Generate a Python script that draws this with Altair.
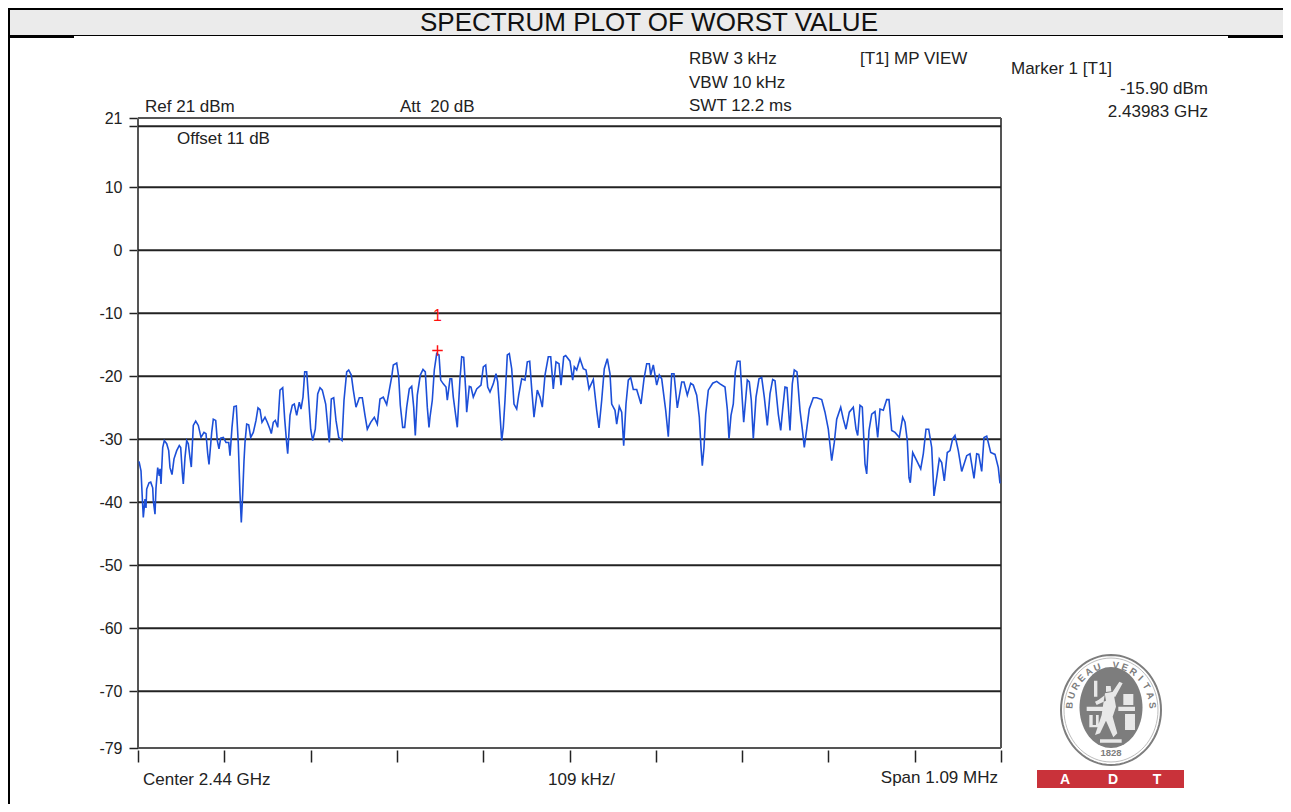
import math
import altair as alt
import pandas as pd

# Trace: position across the 863-column display, level in dBm
trace_col = [1,3,4.3,5.3,7,8,8.7,11,12.7,14.7,15.3,17,18,19.7,21.3,22,23,24.7,26.3,28.7,30.7,32,34,36,38.7,41.3,42.7,44.3,45.3,47,48.7,50.3,52,53.3,55.3,57.7,60.3,63,66,68,69.7,71,73.7,75.3,77.7,79.3,81,82.7,85.3,88,90.7,92,94,96,98.3,100.3,102,103.3,104.7,106,107,108.7,110.7,112.7,115.3,118,120,122,124,127,129.3,132,133.3,135.3,137.3,139.7,142,144.7,146.7,148.7,149.7,152,154.3,156.3,158.7,161.3,163,165,166.7,168.7,170.7,172.7,174.7,177.3,179.7,182,184.3,187.7,190,191.3,193.3,195.7,198,200.7,204,206,208.7,210.7,213.3,215.3,218,221.3,224.3,227,229.3,232.7,236.3,239.3,242,245.3,248.7,251.3,253.7,255.3,258.7,260.7,262.3,264.7,266.7,268.7,271.3,273.7,275.7,277.3,279.3,282.3,285,287.3,289.3,291,
292,294.3,296.3,298.7,301,302.7,305.3,308,309.3,312,313.7,315.3,317.7,319.3,322,323.7,325.7,327.7,328.7,331.3,333,335.3,338.7,343,345.3,347.7,349.7,352,355.3,358,359.7,361.3,363.7,365.3,367,369.3,371.3,373.7,376,378.7,380.7,383.7,387,389.3,391.7,393.7,396,399.3,402,404.3,407,410.3,412.7,415.3,418,421,423,425.7,427.7,432,434.7,436.3,438.7,442,445.3,448,451,455.3,458.7,461,463.7,466.3,469.3,472,473.7,477,478.7,481.3,483.7,485.7,488,490.3,492.7,495.3,498.7,503,506,508.7,511.3,512.7,515.3,518.7,521.3,523.7,527.7,530.3,533.7,536,539.3,543.7,546,549.3,552.7,555.3,558.7,561.3,563,564.3,566,567.7,570.3,574.7,578.7,582,
587,589.3,591,593,595.3,597.3,599.3,602,604.3,605.7,607.7,609.3,611.3,613.3,615.3,618,621,623.7,626.3,629.3,632,634.7,637,640.3,642.7,644.7,647,649,652,654.3,656.3,659,662,664.3,666.3,668.7,671.3,675.3,678.7,683.7,687,690.3,693.7,696.3,698.7,702.7,705.3,708,711.3,715.3,718,719.7,722,724.3,727,728.7,731,733.7,737,739.7,742,745.3,748.7,751,753.7,757,761.3,764.7,767,769.3,771,772.3,774.7,778.7,782.7,785.3,788,790.7,793.7,796,798.7,801.3,803.7,806.3,809.3,812,814.7,817,820.3,823.7,828.7,832,836,838.7,840.7,843.7,846,848.7,852.7,857,860.3,862]
trace_dbm = [-33.5,-35,-39.3,-42.4,-39.5,-40.9,-37.9,-36.9,-36.8,-37.7,-39.7,-41.9,-37.7,-34.5,-35.8,-34.7,-37.1,-31.3,-30.2,-30.7,-31.8,-34.5,-35.6,-33.1,-31.8,-31,-31.3,-35.3,-37.1,-32.9,-30.2,-30.7,-32.9,-34.4,-27.8,-27.1,-27.8,-29.7,-28.9,-29.1,-32.3,-34,-28.9,-26.8,-27,-30.2,-31.5,-29.8,-29.7,-30.5,-30.5,-32.6,-28.1,-24.8,-24.7,-30.7,-38.7,-43.2,-38.7,-33.4,-30.5,-27.6,-27.7,-29.7,-28.9,-27,-25,-25.3,-27.3,-26.5,-27.3,-28.4,-29.1,-27.3,-27,-28.1,-22.2,-21.8,-26.8,-30.7,-32.3,-26.2,-24.6,-24.4,-26.2,-24.1,-25.2,-23.3,-19.3,-19.3,-23.8,-28.4,-30.2,-28.4,-22.8,-21.8,-22.2,-24.4,-28.4,-30.5,-23.6,-23.4,-27,-29.7,-30.2,-23.8,-19.3,-19,-19.8,-22.2,-24.9,-23.4,-23.4,-26.2,-28.4,-27.3,-26.5,-27.6,-23.6,-23.3,-24.5,-22.2,-20.1,-18.2,-17.9,-20.1,-24.6,-28.1,-28.1,-24.9,-22,-21.6,-24.9,-29.4,-23,-19.8,-18.9,-19.3,-24.9,-28.1,
-26.5,-23.8,-19,-16.4,-16.6,-20.6,-21.2,-21.7,-23.8,-20.4,-20.4,-23.3,-26.2,-28.1,-20.4,-16.9,-17,-22.2,-25.7,-21.6,-21.7,-23.3,-22,-21.4,-18.5,-18.2,-21.7,-22.5,-21.2,-19.6,-20.9,-24.4,-30.2,-28.1,-23.8,-16.6,-16.4,-18.8,-24.4,-25.2,-23,-20.4,-20.6,-17.7,-17.6,-22,-26.5,-22.2,-23.3,-24.9,-19.8,-16.9,-16.9,-22,-17.7,-18,-21.4,-16.9,-16.7,-17.6,-20.6,-18.5,-19,-17.2,-18.8,-19,-22,-20.5,-25.4,-28.2,-23.8,-18.8,-17.2,-19.6,-24.4,-25.4,-27.6,-24.8,-25.7,-31,-24.4,-20.6,-20.2,-22.1,-22.1,-24.4,-20.4,-18,-18,-19.8,-18.2,-21.4,-19.8,-20.4,-25.4,-29.6,-19.6,-19.6,-25,-20.9,-20.9,-23,-21.1,-21.4,-23,-26.5,-31.3,-34.2,-31.3,-26,-22.2,-21.1,-20.8,-21.2,
-21.7,-25.2,-29.9,-26.2,-24.4,-19.3,-17.6,-17.6,-23.8,-27.3,-23.6,-20.6,-20.9,-23.8,-29.9,-23.3,-20.4,-20.2,-23.3,-27.8,-22.8,-20.5,-20.7,-26,-28.6,-25.2,-21.7,-21.8,-28.6,-21.2,-19,-19.3,-25.4,-28.4,-31.3,-28.4,-25.2,-23.4,-23.4,-23.7,-25.7,-28.4,-33.4,-30.5,-26.8,-24.9,-26.8,-28.4,-25.7,-24.9,-28.4,-29.4,-24.6,-24.9,-33.9,-35.5,-28.6,-26,-25.6,-29.7,-25.2,-25.4,-23.7,-23.7,-28.6,-28.9,-29.7,-26.5,-27.3,-30.2,-36.1,-36.9,-32.1,-33.4,-34.7,-32.3,-28.4,-28.4,-31.3,-39,-36.1,-33.1,-33.7,-36.6,-32.1,-31.8,-29.9,-29.4,-31.8,-35.1,-32.6,-32.3,-36.2,-32.3,-32.4,-35.1,-29.7,-29.5,-32.1,-32.4,-34.5,-37]

y_labelled = [21, 10, 0, -10, -20, -30, -40, -50, -60, -70, -79]
y_gridlines = [19.7, 10, 0, -10, -20, -30, -40, -50, -60, -70]
x_divisions = [0, 86.3, 172.6, 258.9, 345.2, 431.5, 517.8, 604.1, 690.4, 776.7, 863]
marker_col, marker_dbm = [299.5], [-15.9]

TITLE = "SPECTRUM PLOT OF WORST VALUE"
FONT = "Liberation Sans"
TXT = 17
W, H, L, T = 863, 630, 130, 110
INK = "#222222"

x_scale = alt.Scale(domain=[0, 863], nice=False, zero=False)
y_scale = alt.Scale(domain=[-79, 21], nice=False, zero=False)
x_axis = alt.Axis(values=x_divisions, labels=False, title=None, domain=False, grid=False,
                  tickSize=12, tickColor=INK, tickWidth=1.5, offset=2)
y_axis = alt.Axis(values=y_labelled + [19.7], title=None, domain=False, grid=False,
                  tickSize=9, tickColor=INK, tickWidth=1.5, labelPadding=7,
                  labelFont=FONT, labelFontSize=16, labelColor=INK,
                  labelExpr="datum.value == 19.7 ? '' : datum.value")
X = lambda f: alt.X(f, scale=x_scale, axis=x_axis)
Y = lambda f: alt.Y(f, scale=y_scale, axis=y_axis)
one = alt.Data(values=[{}])


def px(x):
    return alt.value(x - 8 - L)


def py(y):
    return alt.value(y - 8 - T)


def label(text, x, y, align="left", size=TXT, color=INK, bold=False):
    return alt.Chart(one).mark_text(
        text=text, align=align, baseline="middle", font=FONT, fontSize=size, color=color,
        fontWeight="bold" if bold else "normal",
    ).encode(x=px(x), y=py(y))


def box(x0, x1, y0, y1, color):
    return alt.Chart(one).mark_rect(color=color, opacity=1).encode(
        x=px(x0), x2=px(x1), y=py(y0), y2=py(y1))


def ellipse_path(rx, ry, n=72):
    pts = [(rx * math.cos(2 * math.pi * i / n), ry * math.sin(2 * math.pi * i / n)) for i in range(n)]
    return "M" + "L".join(f"{a:.4f} {b:.4f}" for a, b in pts) + "Z"


def symbol(path, cx, cy, size, **kw):
    return alt.Chart(one).mark_point(shape=path, size=size, opacity=1, **kw).encode(x=px(cx), y=py(cy))


# page furniture
furniture = [
    box(8, 1283, 8, 36, "#ebebeb"),
    box(8, 1283, 8, 10, "#000000"),
    box(8, 1283, 35, 36, "#000000"),
    box(8, 74, 36, 38, "#000000"),
    box(1228, 1283, 36, 38, "#000000"),
    box(8, 10, 8, 804, "#000000"),
    label(TITLE, 649, 23, align="center", size=26, color="#111111"),
]

# plot
grid = alt.Chart(pd.DataFrame({"y": y_gridlines})).mark_rule(color=INK, strokeWidth=2).encode(y=Y("y:Q"))
frame_h = alt.Chart(pd.DataFrame({"y": [21, -79]})).mark_rule(color="#555555", strokeWidth=2).encode(y=Y("y:Q"))
frame_v = alt.Chart(pd.DataFrame({"x": [0, 863]})).mark_rule(color="#555555", strokeWidth=2).encode(x=X("x:Q"))
trace = alt.Chart(pd.DataFrame({"c": trace_col, "d": trace_dbm})).mark_line(
    color="#1c4fd8", strokeWidth=1.6, interpolate="linear").encode(x=X("c:Q"), y=Y("d:Q"), order="c:Q")
marker_cross = alt.Chart(pd.DataFrame({"c": marker_col, "d": marker_dbm})).mark_point(
    shape="M-1 0L1 0M0 -1L0 1", color="#ff1010", size=110, opacity=1, strokeWidth=1.5, filled=False).encode(
    x=X("c:Q"), y=Y("d:Q"))

texts = [
    label("Ref 21 dBm", 145, 107), label("Att\u00a0\u00a020 dB", 400, 107),
    label("RBW 3 kHz", 689, 59), label("VBW 10 kHz", 689, 83), label("SWT 12.2 ms", 689, 106),
    label("[T1] MP VIEW", 860, 59), label("Marker 1 [T1]", 1011, 69),
    label("-15.90 dBm", 1208, 89, align="right"), label("2.43983 GHz", 1208, 112, align="right"),
    label("Offset 11 dB", 177, 139),
    label("Center 2.44 GHz", 143, 780), label("109 kHz/", 548, 780),
    label("Span 1.09 MHz", 998, 778, align="right"),
    label("1", 437.5, 316, align="center", size=16, color="#ff1010"),
]

# logo
cx, cy = 1111, 710
GREY = "#7d7d7d"
word = "BUREAU VERITAS"
rows = []
for i, ch in enumerate(word):
    t = -84 + 168 * i / (len(word) - 1)
    r = math.radians(t)
    rows.append({"ch": ch, "x": cx + 41.5 * math.sin(r) - 8 - L, "y": cy - 45 * math.cos(r) - 8 - T,
                 "a": (t + 360) % 360})
ring_text = alt.Chart(pd.DataFrame(rows)).mark_text(
    font=FONT, fontSize=9.5, color=GREY, fontWeight="bold", align="center", baseline="middle").encode(
    x=alt.X("x:Q", scale=None, axis=None), y=alt.Y("y:Q", scale=None, axis=None),
    text="ch:N", angle=alt.Angle("a:Q", scale=None))


def poly(*pts):
    return "M" + "L".join(f"{(a - 273) / 165:.3f} {(b - 180) / 165:.3f}" for a, b in pts) + "Z"


figure = "".join([
    poly((200, 170), (250, 170), (250, 183), (200, 183)),
    poly((295, 170), (345, 170), (345, 183), (295, 183)),
    poly((255, 130), (280, 125), (288, 170), (278, 200), (292, 250), (280, 262), (258, 212), (240, 250), (225, 255), (245, 195), (250, 160)),
    poly((258, 108), (272, 108), (274, 124), (258, 126)),
    poly((275, 130), (298, 95), (308, 100), (285, 142)),
    poly((255, 135), (235, 150), (225, 155), (230, 165), (258, 152)),
    poly((222, 92), (232, 92), (232, 140), (222, 140)),
    poly((208, 195), (218, 195), (218, 225), (228, 225), (228, 195), (236, 195), (236, 232), (208, 232)),
    poly((315, 192), (345, 192), (345, 240), (315, 240)),
    poly((310, 132), (340, 132), (340, 165), (310, 165)),
    poly((240, 268), (305, 268), (305, 278), (240, 278)),
])
logo = [
    symbol(ellipse_path(50 / 55, 1), cx, cy, 110 ** 2, filled=False, color=GREY, strokeWidth=2),
    symbol(ellipse_path(47 / 52.5, 0.99), cx, cy, 105 ** 2, filled=False, color="#bdbdbd", strokeWidth=1),
    symbol(ellipse_path(31.5 / 40.5, 1), cx, cy - 2.5, 81 ** 2, filled=True, fill=GREY, strokeWidth=0),
    symbol(figure, cx, cy, 110 ** 2, filled=True, fill="#e8e8e8", strokeWidth=0),
    ring_text,
    label("1828", 1111, 753, align="center", size=9.5, color=GREY, bold=True),
    box(1037, 1184, 770, 788, "#c9323a"),
    label("A", 1065, 779.5, align="center", size=14, color="#ffffff", bold=True),
    label("D", 1113, 779.5, align="center", size=14, color="#ffffff", bold=True),
    label("T", 1157, 779.5, align="center", size=14, color="#ffffff", bold=True),
]

chart = alt.layer(
    *furniture, frame_h, frame_v, grid, trace, marker_cross, *texts, *logo
).properties(
    width=W, height=H,
    padding={"left": L, "top": T, "right": 1275 - L - W, "bottom": 796 - T - H},
    autosize=alt.AutoSizeParams(type="none"),
).configure_view(stroke=None)

chart.save("out.html", embed_options={"renderer": "svg", "actions": False})
